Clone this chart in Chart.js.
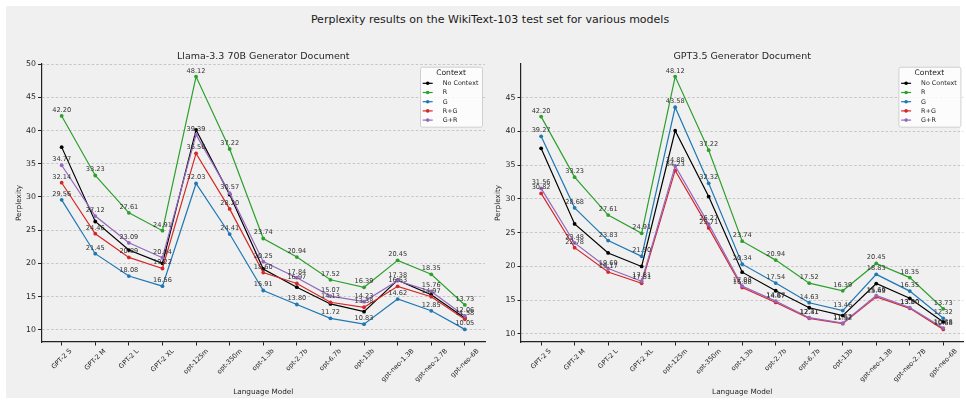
<!DOCTYPE html>
<html>
<head>
<meta charset="utf-8">
<script src="https://cdn.jsdelivr.net/npm/chart.js@4.4.1/dist/chart.umd.min.js"></script>
<style>
  html, body { margin:0; padding:0; width:966px; height:404px; overflow:hidden; background:#ffffff; }
  #bg { position:absolute; left:6px; top:6px; width:954px; height:392px; background:#f0f0f0; }
  #title { position:absolute; left:0; top:13px; width:980px; height:14px; line-height:14px; text-align:center;
           font-family:"DejaVu Sans", sans-serif; font-size:11px; color:#1a1a1a; white-space:nowrap; }
  canvas { position:absolute; top:0; }
  #c1 { left:0; }
  #c2 { left:479px; }
</style>
</head>
<body>
<div id="bg"></div>
<div id="title">Perplexity results on the WikiText-103 test set for various models</div>
<canvas id="c1" width="494" height="404"></canvas>
<canvas id="c2" width="494" height="404"></canvas>
<script>
// ---------------- data ----------------
const categories = ['GPT-2 S','GPT-2 M','GPT-2 L','GPT-2 XL','opt-125m','opt-350m','opt-1.3b','opt-2.7b','opt-6.7b','opt-13b','gpt-neo-1.3B','gpt-neo-2.7B','gpt-neo-6B'];
const seriesNames = ['No Context','R','G','R+G','G+R'];

const noContext = [37.50, 26.30, 22.00, 20.00, 40.10, 30.35, 19.15, 16.40, 13.88, 12.72, 17.47, 15.28, 11.78];
const retrieval = [42.20, 33.23, 27.61, 24.91, 48.12, 37.22, 23.74, 20.94, 17.52, 16.39, 20.45, 18.35, 13.73];

const llamaG  = [29.56, 21.45, 18.08, 16.56, 32.03, 24.41, 15.91, 13.80, 11.72, 10.83, 14.62, 12.85, 10.05];
const llamaRG = [32.14, 24.46, 20.89, 19.22, 36.56, 28.20, 18.60, 16.97, 14.13, 13.38, 16.53, 14.97, 11.58];
const llamaGR = [34.77, 27.12, 23.09, 20.84, 39.39, 30.57, 20.25, 17.84, 15.07, 14.23, 17.38, 15.76, 12.06];

const gptG  = [39.27, 28.68, 23.83, 21.50, 43.58, 32.32, 20.34, 17.54, 14.63, 13.46, 18.83, 16.35, 12.32];
const gptRG = [30.82, 22.78, 19.17, 17.51, 34.23, 25.71, 16.88, 14.67, 12.31, 11.52, 15.49, 13.80, 10.68];
const gptGR = [31.56, 23.48, 19.69, 17.81, 34.88, 26.27, 17.08, 14.87, 12.41, 11.62, 15.69, 13.90, 10.88];

const leftYTicks  = [10, 15, 20, 25, 30, 35, 40, 45, 50];
const rightYTicks = [10, 15, 20, 25, 30, 35, 40, 45];

// ---------------- styles ----------------
const colors = ['#000000', '#2ca02c', '#1f77b4', '#d62728', '#9467bd'];
const FONT = '"DejaVu Sans", sans-serif';
const TXT = '#262626';

const labelsPlugin = {
  id: 'valueLabels',
  afterDatasetsDraw(chart) {
    const ctx = chart.ctx;
    ctx.save();
    ctx.font = '6.6px ' + FONT;
    ctx.fillStyle = '#333333';
    ctx.textAlign = 'center';
    ctx.textBaseline = 'alphabetic';
    chart.data.datasets.forEach((ds, i) => {
      if (!ds.showValues) return;
      const meta = chart.getDatasetMeta(i);
      meta.data.forEach((pt, j) => {
        ctx.fillText(ds.data[j].y.toFixed(2), pt.x, pt.y - 4);
      });
    });
    ctx.restore();
  }
};

// x tick labels rotated 45deg with the rotated box centred under each tick
const xLabelPlugin = {
  id: 'xCenteredLabels',
  afterDraw(chart) {
    const ctx = chart.ctx, sx = chart.scales.x;
    const fs = 6.6, h = fs * 1.15, c = Math.SQRT1_2;
    const y0 = sx.top + 5.5;
    ctx.save();
    ctx.font = fs + 'px ' + FONT;
    ctx.fillStyle = TXT;
    ctx.textAlign = 'center';
    ctx.textBaseline = 'middle';
    sx.ticks.forEach(t => {
      const label = (t.label !== undefined && t.label !== '') ? t.label : categories[t.value];
      const w = ctx.measureText(label).width;
      const x = sx.getPixelForValue(t.value);
      const cy = y0 + (w + h) * c / 2;
      ctx.save();
      ctx.translate(x, cy);
      ctx.rotate(-Math.PI / 4);
      ctx.fillText(label, 0, 0);
      ctx.restore();
    });
    ctx.restore();
  }
};

const legendPlugin = {
  id: 'ctxLegend',
  afterDraw(chart) {
    const ctx = chart.ctx, a = chart.chartArea;
    const w = 62, h = 60;
    const x = a.right - 3 - w, y = a.top + 2.7;
    ctx.save();
    ctx.beginPath();
    ctx.roundRect(x + 0.5, y + 0.5, w, h, 2);
    ctx.fillStyle = 'rgba(255,255,255,0.8)';
    ctx.fill();
    ctx.strokeStyle = '#cfcfcf';
    ctx.lineWidth = 1;
    ctx.stroke();
    ctx.fillStyle = TXT;
    ctx.textBaseline = 'middle';
    ctx.textAlign = 'center';
    ctx.font = '7.6px ' + FONT;
    ctx.fillText('Context', x + w / 2, y + 6.8);
    ctx.textAlign = 'left';
    ctx.font = '6.4px ' + FONT;
    chart.data.datasets.forEach((ds, i) => {
      const yy = y + 16.6 + i * 9.2;
      ctx.strokeStyle = ds.borderColor;
      ctx.lineWidth = 1.2;
      ctx.beginPath();
      ctx.moveTo(x + 2.7, yy);
      ctx.lineTo(x + 12.7, yy);
      ctx.stroke();
      ctx.fillStyle = ds.borderColor;
      ctx.beginPath();
      ctx.arc(x + 7.7, yy, 1.8, 0, Math.PI * 2);
      ctx.fill();
      ctx.fillStyle = TXT;
      ctx.fillText(ds.label, x + 22.7, yy + 0.3);
    });
    ctx.restore();
  }
};

const subtitlePlugin = {
  id: 'subTitle',
  afterDraw(chart, args, opts) {
    const ctx = chart.ctx, a = chart.chartArea;
    ctx.save();
    ctx.font = '9.5px ' + FONT;
    ctx.fillStyle = TXT;
    ctx.textAlign = 'center';
    ctx.textBaseline = 'alphabetic';
    ctx.fillText(opts.text, (a.left + a.right) / 2, a.top - 5.5);
    ctx.restore();
  }
};

function makeChart(id, subtitle, seriesValues, yMin, yMax, yTicks, yWidth, padRight) {
  const datasets = seriesValues.map((vals, i) => ({
    label: seriesNames[i],
    data: vals.map((v, j) => ({ x: j, y: v })),
    borderColor: colors[i],
    backgroundColor: colors[i],
    borderWidth: 1.2,
    pointRadius: 1.9,
    pointBorderWidth: 0,
    pointHoverRadius: 0,
    tension: 0,
    order: 10 - i,
    showValues: i > 0
  }));
  return new Chart(document.getElementById(id), {
    type: 'line',
    data: { datasets },
    options: {
      responsive: false,
      animation: false,
      events: [],
      layout: { padding: { left: 0, top: 64, right: padRight, bottom: 0 } },
      plugins: {
        legend: { display: false },
        tooltip: { enabled: false },
        subTitle: { text: subtitle }
      },
      scales: {
        x: {
          type: 'linear',
          min: -0.6, max: 12.6,
          afterBuildTicks: s => { s.ticks = categories.map((c, i) => ({ value: i })); },
          afterFit: s => { s.height = 62; },
          ticks: {
            display: false, autoSkip: false,
            callback: v => categories[v],
            font: { family: FONT, size: 6.6 }, color: TXT
          },
          grid: { drawOnChartArea: false, drawTicks: true, tickLength: 3.5, tickColor: '#222', tickWidth: 1 },
          border: { display: true, color: '#222', width: 1.2 },
          title: { display: true, text: 'Language Model', color: TXT,
                   font: { family: FONT, size: 7.3 }, padding: { top: 0, bottom: 7.6 } }
        },
        y: {
          type: 'linear',
          min: yMin, max: yMax,
          afterBuildTicks: s => { s.ticks = yTicks.map(v => ({ value: v })); },
          afterFit: s => { s.width = yWidth; },
          ticks: { padding: 2, font: { family: FONT, size: 7.8 }, color: TXT },
          grid: { color: 'rgba(0,0,0,0.22)', lineWidth: 0.8, tickLength: 3.5, tickColor: '#222',
                  tickWidth: 1, tickBorderDash: [] },
          border: { display: true, color: '#222', width: 1.2, dash: [2.5, 2] },
          title: { display: true, text: 'Perplexity', color: TXT,
                   font: { family: FONT, size: 7.3 }, padding: { top: 14.4, bottom: 0 } }
        }
      }
    },
    plugins: [labelsPlugin, xLabelPlugin, legendPlugin, subtitlePlugin]
  });
}

makeChart('c1', 'Llama-3.3 70B Generator Document',
  [noContext, retrieval, llamaG, llamaRG, llamaGR], 8.15, 50.02, leftYTicks, 41.5, 9);
makeChart('c2', 'GPT3.5 Generator Document',
  [noContext, retrieval, gptG, gptRG, gptGR], 8.81, 49.99, rightYTicks, 42, 9.6);
</script>
</body>
</html>
